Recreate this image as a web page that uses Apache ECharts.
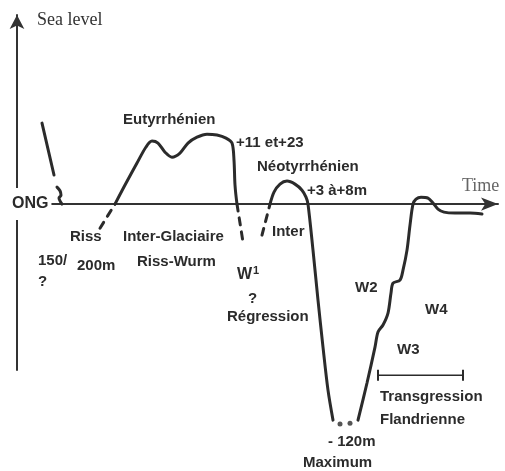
<!DOCTYPE html>
<html>
<head>
<meta charset="utf-8">
<script src="https://cdn.jsdelivr.net/npm/echarts@6/dist/echarts.min.js"></script>
<style>
  html, body { margin: 0; padding: 0; background: #fff; }
  #sea_level_chart { width: 505px; height: 471px; }
</style>
</head>
<body>
<div id="sea_level_chart"></div>
<script>
  // time (arbitrary units) / sea level (m)
  const preRiss = [[25, 45.4], [37, 16.3]]
  const preRissHook = [[40, 9.5], [43, 7.5], [44, 5], [42, 3.4], [45, 0]]
  const rissDash = [[83, -13.5], [98, 0]]
  const eutyrrhenien = [[98, 0], [108, 10.7], [120, 23], [129, 32], [135, 35.3], [141, 34.2], [148, 29.1],
    [155, 26.3], [163, 28.6], [171, 34.2], [180, 37.5], [190, 39.2], [200, 38.7], [209, 37], [215, 34.2],
    [217, 24.7], [218, 10.7], [220, 0]]
  const w1Dash = [[220, 0], [226, -21.3]]
  const interDash = [[245, -17.4], [253, 0]]
  const neotyrrhenien = [[253, 0], [257, 6.7], [263, 11.2], [270, 12.9], [278, 11.2], [285, 7.8], [289, 3.9],
    [291, 0], [296, -25.8], [301, -53.8], [306, -80.2], [311, -104.3], [316, -121.1]]
  const maximumDots = [[323, -123.3], [333, -122.8]]
  const transgression = [[341, -121.1], [350, -100.3], [358, -80.2], [361, -71.7], [366, -67.8], [371, -61.1],
    [374, -49.9], [376, -44.3], [383, -42.6], [386, -37], [390, -25.8], [393, -11.8], [396, 0],
    [399, 2.8], [404, 3.9], [411, 3.4], [416, 0.6], [421, -2.8], [427, -4.5], [438, -5], [453, -5], [465, -5.6]]
  const flandrienSpan = [[361, -95.9], [446, -95.9]]

  const labels = [
    ['Eutyrrhénien', 123, 120], ['+11 et+23', 236, 143], ['Néotyrrhénien', 257, 167], ['+3 à+8m', 307, 191],
    ['Riss', 70, 237], ['150/', 38, 261], ['200m', 77, 266], ['?', 38, 282],
    ['Inter-Glaciaire', 123, 237], ['Riss-Wurm', 137, 262], ['?', 248, 299], ['Régression', 227, 317],
    ['Inter', 272, 232], ['W2', 355, 288], ['W4', 425, 310], ['W3', 397, 350],
    ['Transgression', 380, 397], ['Flandrienne', 380, 420], ['- 120m', 328, 442], ['Maximum', 303, 463]
  ]

  let ink = '#2b2b2b'
  let sans = 'Liberation Sans, Arial, sans-serif'
  let serif = 'Liberation Serif, Times New Roman, serif'

  function curve (data, dashed, width) {
    return {
      type: 'line',
      data: data,
      clip: false,
      smooth: 0.3,
      symbol: 'none',
      silent: true,
      lineStyle: { color: ink, width: width || 3, type: dashed ? [7, 7] : 'solid', cap: 'round' }
    }
  }

  let graphics = labels.map(function (l) {
    return {
      type: 'text', x: l[1], y: l[2], z: 100,
      style: { text: l[0], fill: ink, font: 'bold 15px ' + sans, textVerticalAlign: 'middle' }
    }
  })
  graphics.push({
    type: 'text', x: 237, y: 275, z: 100,
    style: {
      text: '{a|W}{b|1}', textVerticalAlign: 'middle',
      rich: { a: { fill: ink, font: 'bold 16px ' + sans }, b: { fill: ink, font: 'bold 11px ' + sans, verticalAlign: 'top', padding: [0, 0, 8, 1] } }
    }
  })
  graphics.push({
    type: 'text', x: 37, y: 20, z: 100,
    style: { text: 'Sea level', fill: '#333', font: '18px ' + serif, textVerticalAlign: 'middle' }
  })
  graphics.push({
    type: 'text', x: 462, y: 186, z: 100,
    style: { text: 'Time', fill: '#666', font: '18px ' + serif, textVerticalAlign: 'middle' }
  })
  graphics.push({
    type: 'text', x: 4, y: 204, z: 100,
    style: {
      text: 'ONG', fill: ink, font: 'bold 16px ' + sans, textVerticalAlign: 'middle',
      backgroundColor: '#fff', padding: [8, 3, 8, 8]
    }
  })

  let myChart = echarts.init(document.getElementById('sea_level_chart'))
  let option = {
    backgroundColor: '#fff',
    animation: false,
    grid: { left: 17, right: 7, top: 15, bottom: 101 },
    xAxis: {
      type: 'value', min: 0, max: 481,
      axisLine: { lineStyle: { color: '#333', width: 2 }, symbol: ['none', 'arrow'], symbolSize: [10, 17] },
      axisTick: { show: false }, axisLabel: { show: false }, splitLine: { show: false }
    },
    yAxis: {
      type: 'value', min: -93, max: 106,
      axisLine: { lineStyle: { color: '#333', width: 2 }, symbol: ['none', 'arrow'], symbolSize: [11, 14] },
      axisTick: { show: false }, axisLabel: { show: false }, splitLine: { show: false }
    },
    graphic: graphics,
    series: [
      curve(preRiss),
      curve(preRissHook),
      curve(rissDash, true),
      curve(eutyrrhenien),
      curve(w1Dash, true),
      curve(interDash, true),
      curve(neotyrrhenien),
      curve(transgression),
      {
        type: 'scatter', data: maximumDots, clip: false, silent: true,
        symbolSize: 5, itemStyle: { color: ink }
      },
      {
        type: 'line', data: flandrienSpan, clip: false, silent: true,
        symbol: 'rect', symbolSize: [2, 11],
        itemStyle: { color: ink },
        lineStyle: { color: ink, width: 1.5 }
      }
    ]
  }
  myChart.setOption(option)
</script>
</body>
</html>
